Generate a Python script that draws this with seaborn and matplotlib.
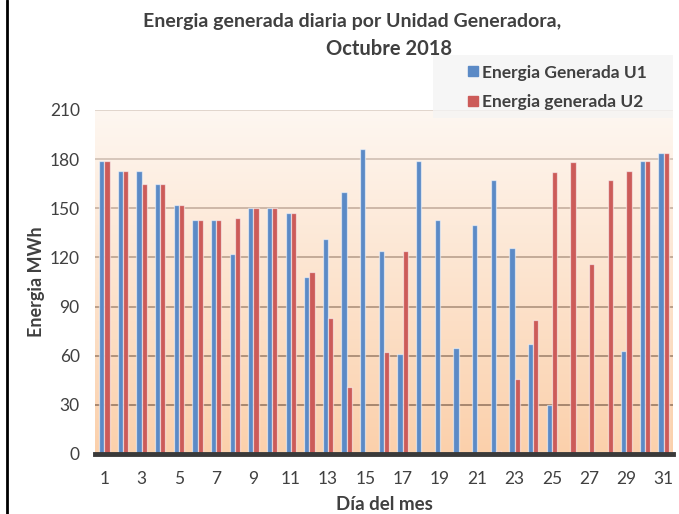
import numpy as np
import pandas as pd
import matplotlib
matplotlib.use("Agg")
import matplotlib.pyplot as plt
from matplotlib.patches import Rectangle
from matplotlib.lines import Line2D
import seaborn as sns

days = list(range(1, 32))
u1 = [179, 173, 173, 165, 152, 143, 143, 122, 150, 150, 147, 108, 131, 160, 186, 124,
      61, 179, 143, 65, 140, 167, 126, 67, 30, 0, 0, 0, 63, 179, 184]
u2 = [179, 173, 165, 165, 152, 143, 143, 144, 150, 150, 147, 111, 83, 41, 0, 62,
      124, 0, 0, 0, 0, 2, 46, 82, 172, 178, 116, 167, 173, 179, 184]
series_names = ["Energia Generada U1", "Energia generada U2"]
y_ticks = [0, 30, 60, 90, 120, 150, 180, 210]
x_tick_labels = [str(d) for d in days if d % 2 == 1]

df = pd.DataFrame({
    "day": [str(d) for d in days] * 2,
    "value": u1 + u2,
    "serie": [series_names[0]] * len(days) + [series_names[1]] * len(days),
})

sns.set_theme(style="white")
plt.rcParams['font.family'] = ['Lato', 'DejaVu Sans']

colors = ["#5b8ac6", "#cc5b59"]
fig = plt.figure(figsize=(6.79, 5.14), dpi=100)
fig.patch.set_facecolor("white")
ax = fig.add_axes([95 / 679, 60 / 514, (673 - 95) / 679, (454 - 110) / 514])

# gradient background
grad = np.linspace(0, 1, 256).reshape(-1, 1)
top = np.array([0xfe, 0xf7, 0xf1]) / 255
bot = np.array([0xfb, 0xd0, 0xab]) / 255
img = top[None, None, :] * (1 - grad[..., None]) + bot[None, None, :] * grad[..., None]
ax.imshow(img, extent=[-0.5, 30.5, 0, 210], aspect="auto", zorder=0, origin="upper")

for yv in y_ticks[1:]:
    ax.axhline(yv, color=(0.42, 0.31, 0.24), alpha=0.2 + 0.45 * (1 - yv / 210), lw=1.4, zorder=1)

sns.barplot(data=df, x="day", y="value", hue="serie", order=[str(d) for d in days],
            palette=colors, width=0.56, ax=ax, legend=False, zorder=2,
            edgecolor=(1, 1, 1, 0.55), linewidth=0.9, saturation=1)

ax.set_xlim(-0.5, 30.5)
ax.set_ylim(0, 210)
ax.set_yticks(y_ticks)
ax.set_yticklabels([str(v) for v in y_ticks], fontsize=12.5, color="#404040")
ax.set_xticks([i for i, d in enumerate(days) if d % 2 == 1])
ax.set_xticklabels(x_tick_labels, fontsize=12.5, color="#404040")
ax.tick_params(axis="y", length=0, pad=11)
ax.tick_params(axis="x", length=0, pad=12)
for s in ["top", "right", "left"]:
    ax.spines[s].set_visible(False)
ax.spines["bottom"].set_color("#3a3a3a")
ax.spines["bottom"].set_linewidth(3.5)
ax.spines["bottom"].set_zorder(5)
ax.set_xlabel("Día del mes", fontsize=13.5, fontweight="bold", color="#404040", labelpad=7)
ax.set_ylabel("Energia MWh", fontsize=13, fontweight="bold", color="#404040")
ax.yaxis.set_label_coords((45 - 95) / 578, 0.5)

fig.text(352 / 679, 1 - 21 / 514, "Energia generada diaria por Unidad Generadora,",
         ha="center", va="center", fontsize=14, fontweight="bold", color="#404040")
fig.text(389 / 679, 1 - 49 / 514, "Octubre 2018",
         ha="center", va="center", fontsize=14.5, fontweight="bold", color="#404040")

# legend box (semi-transparent, overlapping the plot top)
fig.patches.append(Rectangle((433 / 679, 1 - 118 / 514), (673 - 433) / 679, 63 / 514,
                             transform=fig.transFigure, facecolor="#f4f4f4", alpha=0.75,
                             edgecolor="none", zorder=10))
handles = [Line2D([], [], marker="s", linestyle="none", markersize=7.5,
                  markerfacecolor=c, markeredgecolor=c) for c in colors]
leg = fig.legend(handles, series_names, loc="center left",
                 bbox_to_anchor=(449 / 679, 1 - 87.5 / 514), frameon=False,
                 handletextpad=0.0, labelspacing=0.8, handlelength=1.0,
                 prop={"size": 12.5, "weight": "bold"}, labelcolor="#404040")
leg.set_zorder(11)

# left frame line
fig.add_artist(Line2D([7 / 679, 7 / 679], [0, 1], transform=fig.transFigure,
                      color="black", lw=2))

fig.savefig("out.png", dpi=100)
